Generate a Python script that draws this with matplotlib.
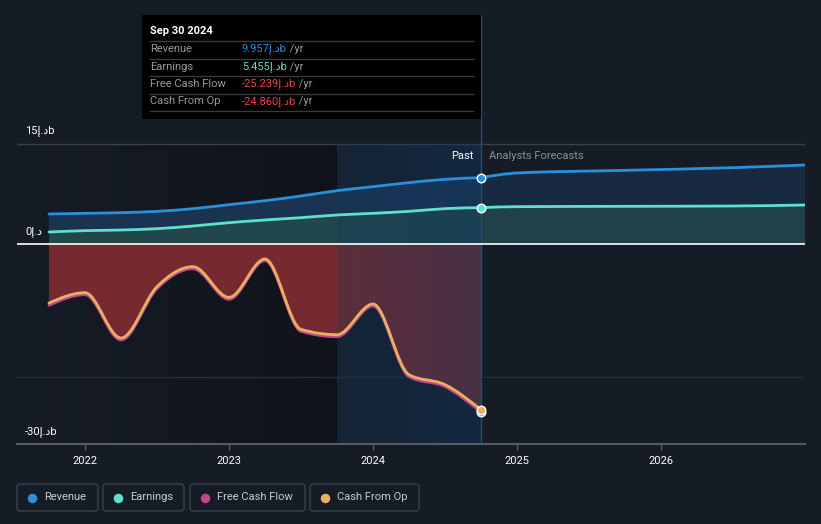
import numpy as np
import matplotlib
matplotlib.use("Agg")
import matplotlib.pyplot as plt
from matplotlib.path import Path
from matplotlib.patches import PathPatch, Rectangle, FancyBboxPatch

plt.rcParams['font.family'] = ['Roboto', 'DejaVu Sans']

# data (AED billions), quarterly trailing values + analyst forecasts
past_x = [2021.75, 2022.0, 2022.25, 2022.5, 2022.75, 2023.0, 2023.25,
          2023.5, 2023.75, 2024.0, 2024.25, 2024.5, 2024.75]
revenue = [4.5, 4.6, 4.7, 4.9, 5.3, 5.9, 6.5, 7.2, 8.0, 8.6, 9.2, 9.7, 9.957]
earnings = [1.8, 2.0, 2.1, 2.3, 2.7, 3.2, 3.6, 3.95, 4.35, 4.6, 4.9, 5.3, 5.455]
cash_from_op = [-8.85, -7.3, -14.1, -6.4, -3.4, -8.0, -2.25, -12.8, -13.6,
                -9.0, -19.6, -21.1, -24.86]
free_cash_flow = [-9.2, -7.6, -14.4, -6.7, -3.7, -8.3, -2.5, -13.1, -13.9,
                  -9.3, -19.9, -21.4, -25.239]

fc_x = [2024.75, 2025.0, 2025.75, 2026.5, 2027.0]
revenue_fc = [9.957, 10.65, 11.05, 11.45, 11.85]
earnings_fc = [5.455, 5.6, 5.65, 5.7, 5.85]

year_ticks = [2022, 2023, 2024, 2025, 2026]
legend_names = ["Revenue", "Earnings", "Free Cash Flow", "Cash From Op"]

BG = '#161c26'
C_REV = '#2a8fdc'
C_EARN = '#5fe0cf'
C_FCF = '#c2478a'
C_CFO = '#e8b063'
CUR = 'إ.د'  # dirham sign in visual order
FS = 8


def mono_verts(x, y):
    x = np.asarray(x, float)
    y = np.asarray(y, float)
    n = len(x)
    h = np.diff(x)
    s = np.diff(y) / h
    t = np.zeros(n)
    for i in range(1, n - 1):
        if s[i - 1] * s[i] > 0:
            p = (s[i - 1] * h[i] + s[i] * h[i - 1]) / (h[i - 1] + h[i])
            t[i] = np.sign(s[i]) * 2 * min(abs(s[i - 1]), abs(s[i]), 0.5 * abs(p))
    t[0] = (3 * s[0] - t[1]) / 2
    t[-1] = (3 * s[-1] - t[-2]) / 2
    verts = [(x[0], y[0])]
    codes = [Path.MOVETO]
    for i in range(n - 1):
        verts += [(x[i] + h[i] / 3, y[i] + h[i] * t[i] / 3),
                  (x[i + 1] - h[i] / 3, y[i + 1] - h[i] * t[i + 1] / 3),
                  (x[i + 1], y[i + 1])]
        codes += [Path.CURVE4] * 3
    return verts, codes


def line(ax, x, y, color, lw, z):
    v, c = mono_verts(x, y)
    ax.add_patch(PathPatch(Path(v, c), fill=False, edgecolor=color, lw=lw,
                           zorder=z, capstyle='round', joinstyle='round'))


def area(ax, x, y, color, z, alpha=1.0):
    v, c = mono_verts(x, y)
    v += [(x[-1], 0), (x[0], 0), (x[0], 0)]
    c += [Path.LINETO, Path.LINETO, Path.CLOSEPOLY]
    ax.add_patch(PathPatch(Path(v, c), facecolor=color, edgecolor='none',
                           zorder=z, alpha=alpha))


W, H = 821, 524
fig = plt.figure(figsize=(W / 100, H / 100), dpi=100, facecolor=BG)
ax = fig.add_axes([17 / W, 1 - 444 / H, 788 / W, 429 / H])
ax.set_facecolor(BG)
ax.set_xlim(2021.528, 2027.0)
ax.set_ylim(-30, 34.35)
for sp in ax.spines.values():
    sp.set_visible(False)

# darker past background gradient
grad = np.linspace(0, 1, 256)[None, :]
dark = np.zeros((1, 256, 4))
dark[..., :3] = np.array([0.04, 0.05, 0.06])
dark[..., 3] = grad[0] * 0.55
ax.imshow(dark, extent=[2021.528, 2023.75, -30, 15], aspect='auto', zorder=0.5)

# gridlines
ax.plot([2021.528, 2027.0], [15, 15], color='#3a3f48', lw=1, zorder=1)
ax.plot([2021.528, 2027.0], [-20, -20], color='#272d37', lw=1, zorder=1)

# areas
area(ax, past_x, revenue, '#1a3350', 1.2)
area(ax, fc_x, revenue_fc, '#172a40', 1.2)
area(ax, past_x, earnings, '#21464c', 1.3)
area(ax, fc_x, earnings_fc, '#20404a', 1.3)
area(ax, past_x, cash_from_op, '#762a2f', 1.2)

# highlighted last year
hl = np.zeros((1, 256, 4))
hl[..., :3] = np.array([0.07, 0.22, 0.38])
hl[..., 3] = 0.26 + 0.2 * grad[0]
ax.imshow(hl, extent=[2023.75, 2024.75, -30, 15], aspect='auto', zorder=2)
ax.plot([2024.75, 2024.75], [-30, 34.35], color='#2a4a66', lw=1, zorder=2.1)

# zero line
ax.plot([2021.528, 2027.0], [0, 0], color='white', lw=1.2, zorder=2.5)

# lines
line(ax, past_x, revenue, C_REV, 2.0, 3)
line(ax, fc_x, revenue_fc, C_REV, 2.0, 3)
line(ax, past_x, earnings, C_EARN, 2.0, 3)
line(ax, fc_x, earnings_fc, C_EARN, 2.0, 3)
line(ax, past_x, free_cash_flow, C_FCF, 2.0, 3)
line(ax, past_x, cash_from_op, C_CFO, 2.0, 3.1)
for yv, col in [(revenue[-1], C_REV), (earnings[-1], C_EARN),
                (free_cash_flow[-1], C_FCF), (cash_from_op[-1], C_CFO)]:
    ax.scatter([past_x[-1]], [yv], s=38, color=col, edgecolor='white',
               linewidth=1, zorder=4)

# x axis
ax.plot([2021.528, 2027.0], [-30, -30], color='#555b66', lw=1.5, zorder=3,
        clip_on=False)
ax.set_xticks(year_ticks)
ax.set_xticklabels([str(y) for y in year_ticks])
ax.tick_params(axis='x', colors='#555b66', labelcolor='white', length=4,
               width=1, labelsize=FS, pad=5)
ax.set_yticks([])

# overlay for pixel-placed texts
ov = fig.add_axes([0, 0, 1, 1], facecolor='none')
ov.set_xlim(0, W)
ov.set_ylim(H, 0)
ov.axis('off')

ov.text(25, 131, '15' + CUR + 'b', color='white', fontsize=FS, va='center')
ov.text(25, 232, '0' + CUR, color='white', fontsize=FS, va='center')
ov.text(25, 432, '-30' + CUR + 'b', color='white', fontsize=FS, va='center')
ov.text(473, 156, 'Past', color='white', fontsize=FS, va='center', ha='right')
ov.text(489, 156, 'Analysts Forecasts', color='#8a8f98', fontsize=FS,
        va='center')

# tooltip
ov.add_patch(Rectangle((142, 15), 339, 104, facecolor='black', edgecolor='none',
                       zorder=5))
ov.text(150, 31, 'Sep 30 2024', color='white', fontsize=FS, fontweight='bold',
        va='center', zorder=6)
rows = [("Revenue", revenue[-1], C_REV), ("Earnings", earnings[-1], C_EARN),
        ("Free Cash Flow", free_cash_flow[-1], '#f0434a'),
        ("Cash From Op", cash_from_op[-1], '#f0434a')]
for i, (name, val, col) in enumerate(rows):
    yy = 49 + i * 17.5
    ov.plot([150, 473], [yy - 8, yy - 8], color='#3a3a3a', lw=1, zorder=6)
    ov.text(150, yy, name, color='#9a9a9a', fontsize=FS, va='center', zorder=6)
    t = ov.text(242, yy, f'{val:.3f}' + CUR + 'b', color=col, fontsize=FS,
                va='center', zorder=6)
    ov.annotate(' /yr', xycoords=t, xy=(1, 0.5), va='center', color='#9a9a9a',
                fontsize=FS, zorder=6)
ov.plot([150, 473], [111, 111], color='#3a3a3a', lw=1, zorder=6)

# legend
boxes = [(17, 98), (103, 184), (190, 305), (310, 419)]
cols = [C_REV, C_EARN, C_FCF, C_CFO]
for (x0, x1), name, col in zip(boxes, legend_names, cols):
    ov.add_patch(FancyBboxPatch((x0, 484), x1 - x0, 27,
                                boxstyle='round,pad=0,rounding_size=3',
                                facecolor='none', edgecolor='#3a404a', lw=1))
    ov.scatter([x0 + 15], [497.5], s=34, color=col, zorder=6)
    ov.text(x0 + 27, 497.5, name, color='#c8ccd2', fontsize=FS, va='center')

fig.savefig('out.png', dpi=100, facecolor=BG)
